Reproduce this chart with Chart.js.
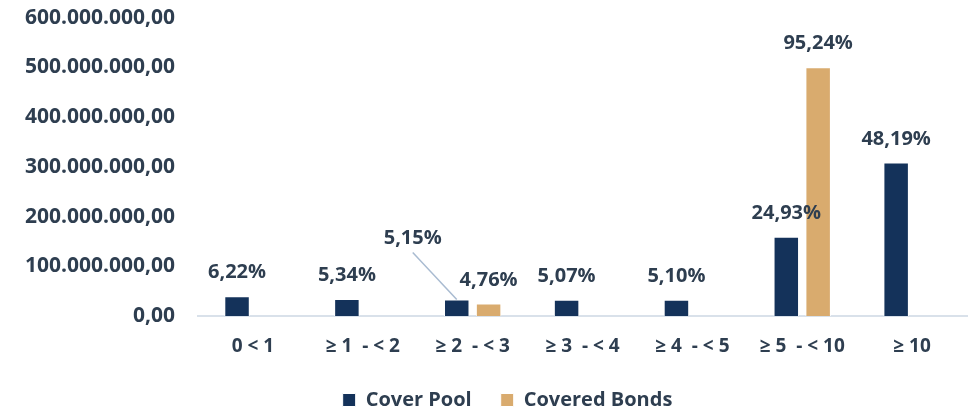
<!DOCTYPE html>
<html>
<head>
<meta charset="utf-8">
<script src="https://cdn.jsdelivr.net/npm/chart.js@4.4.1/dist/chart.umd.min.js"></script>
<style>
  html, body { margin: 0; padding: 0; background: #fff; overflow: hidden; }
  /* a bit taller than the window and pulled up, so the top tick sits near the edge */
  #wrap { width: 969px; height: 430px; margin-top: -18px; }
</style>
</head>
<body>
<div id="wrap"><canvas id="myChart"></canvas></div>
<script>
// DATA
const categories = ["0 < 1", "≥ 1  - < 2", "≥ 2  - < 3", "≥ 3  - < 4", "≥ 4  - < 5", "≥ 5  - < 10", "≥ 10"];
const coverPool = [39800000, 34200000, 33000000, 32500000, 32700000, 159600000, 308500000];
const coveredBonds = [null, null, 25000000, null, null, 500000000, null];
const coverPoolPct = [6.22, 5.34, 5.15, 5.07, 5.10, 24.93, 48.19];
const coveredBondsPct = [null, null, 4.76, null, null, 95.24, null];

const textColor = "#2E3E50";
const fontFamily = "'Open Sans', Lato, sans-serif";

// 1234567.5 -> "1.234.567,50"
function fmtNumber(v) {
  const parts = v.toFixed(2).split(".");
  parts[0] = parts[0].replace(/\B(?=(\d{3})+(?!\d))/g, ".");
  return parts[0] + "," + parts[1];
}

function fmtPct(v) {
  return v.toFixed(2).replace(".", ",") + "%";
}

// percentage labels over the bars (5,15% is pulled out with a leader line)
const pctLabels = {
  id: "pctLabels",
  afterLayout(chart) {
    // legend sits a little right of the canvas centre
    chart.legend.left += 23;
    chart.legend.right += 23;
  },
  afterDatasetsDraw(chart) {
    const ctx = chart.ctx;
    const pcts = [coverPoolPct, coveredBondsPct];
    ctx.save();
    ctx.font = "bold 20px " + fontFamily;
    ctx.fillStyle = textColor;
    ctx.textAlign = "center";
    ctx.textBaseline = "alphabetic";
    chart.data.datasets.forEach((ds, di) => {
      chart.getDatasetMeta(di).data.forEach((bar, i) => {
        const p = pcts[di][i];
        if (p == null) return;
        let x = bar.x;
        let y = bar.y - 18;
        if (di === 0 && i === 2) {
          x = bar.x - 44;
          y = bar.y - 56;
          ctx.strokeStyle = "#A9BBD1";
          ctx.lineWidth = 1.5;
          ctx.beginPath();
          ctx.moveTo(x, y + 9);
          ctx.lineTo(bar.x, bar.y);
          ctx.stroke();
        }
        ctx.fillText(fmtPct(p), x, y);
      });
    });
    ctx.restore();
  }
};

new Chart("myChart", {
  type: "bar",
  data: {
    labels: categories,
    datasets: [
      {
        label: "Cover Pool",
        data: coverPool,
        backgroundColor: "#14325A",
        borderColor: "#ffffff",
        borderWidth: 1,
        categoryPercentage: 0.58,
        barPercentage: 0.8
      },
      {
        label: "Covered Bonds",
        data: coveredBonds,
        backgroundColor: "#D9AB6E",
        borderColor: "#ffffff",
        borderWidth: 1,
        categoryPercentage: 0.58,
        barPercentage: 0.8
      }
    ]
  },
  options: {
    responsive: true,
    maintainAspectRatio: false,
    animation: false,
    layout: { padding: { top: 0, right: 2, left: 2, bottom: -8 } },
    plugins: {
      legend: {
        position: "bottom",
        labels: {
          color: textColor,
          font: { family: fontFamily, size: 20, weight: "bold" },
          boxWidth: 13,
          boxHeight: 13,
          padding: 29
        }
      },
      tooltip: { enabled: false }
    },
    scales: {
      x: {
        grid: { display: false, drawTicks: false },
        border: { color: "#D9E1EA", width: 2 },
        ticks: {
          color: textColor,
          font: { family: fontFamily, size: 19, weight: "bold" },
          padding: 19,
          maxRotation: 0
        },
        afterFit: (scale) => { scale.height = 45; }
      },
      y: {
        min: 0,
        max: 600000000,
        grid: { display: false, drawTicks: false },
        border: { display: false },
        ticks: {
          stepSize: 100000000,
          color: textColor,
          font: { family: fontFamily, size: 21, weight: "bold" },
          padding: 23,
          callback: (v) => fmtNumber(v)
        }
      }
    }
  },
  plugins: [pctLabels]
});
</script>
</body>
</html>
